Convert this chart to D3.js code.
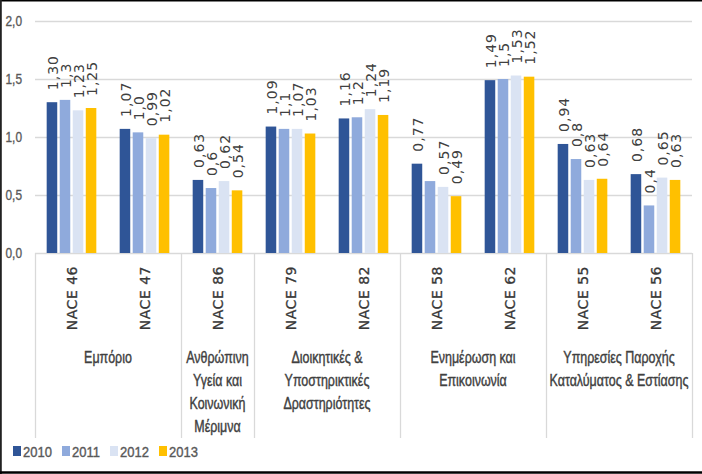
<!DOCTYPE html>
<html><head><meta charset="utf-8">
<script src="https://cdn.jsdelivr.net/npm/d3@7"></script>
<style>
html,body{margin:0;padding:0;background:#fff;}
svg{display:block;}
</style></head>
<body>
<svg id="chart" width="702" height="474"></svg>
<script>
// ---- data ----
const categories = ["NACE 46","NACE 47","NACE 86","NACE 79","NACE 82","NACE 58","NACE 62","NACE 55","NACE 56"];
const seriesNames = ["2010","2011","2012","2013"];
const v2010 = [1.30,1.07,0.63,1.09,1.16,0.77,1.49,0.94,0.68];
const v2011 = [1.32,1.04,0.56,1.07,1.17,0.62,1.50,0.81,0.41];
const v2012 = [1.23,0.99,0.62,1.07,1.24,0.57,1.53,0.63,0.65];
const v2013 = [1.25,1.02,0.54,1.03,1.19,0.49,1.52,0.64,0.63];
const seriesDecimals = [2,1,2,2];
const hiddenLabels = [[1,5]]; // [series, category] labels not shown
const groupLabels = [
  ["Εμπόριο"],
  ["Ανθρώπινη","Υγεία και","Κοινωνική","Μέριμνα"],
  ["Διοικητικές &","Υποστηρικτικές","Δραστηριότητες"],
  ["Ενημέρωση και","Επικοινωνία"],
  ["Υπηρεσίες Παροχής","Καταλύματος & Εστίασης"]
];
const groupSizes = [2,1,2,2,2];
const yTicks = [0,0.5,1.0,1.5,2.0];
const colors = ["#2F5597","#8FAADC","#DAE3F3","#FFC000"];

const seriesValues = [v2010,v2011,v2012,v2013];

// ---- layout ----
const svg = d3.select("#chart");
const plotL = 35, plotR = 692, plotT = 21, plotB = 253, axisBottom = 438;
const locale = d3.formatLocale({decimal:",",thousands:".",grouping:[3],currency:["","€"]});
const sansFont = "'Liberation Sans',Arial,sans-serif";
const monoLikeFont = "'DejaVu Sans',Verdana,sans-serif";

const y = d3.scaleLinear().domain([0,2]).range([plotB, plotT]);
const x = d3.scaleBand().domain(categories).range([plotL, plotR]).padding(0);
const bw = x.bandwidth();
const xs = d3.scaleBand().domain(seriesNames).range([bw*0.16, bw*0.84]).paddingInner(0.19);

// frame
svg.append("rect").attr("x",0).attr("y",0).attr("width",702).attr("height",474).attr("fill","#fff");
svg.append("line").attr("x1",0).attr("x2",702).attr("y1",0.5).attr("y2",0.5).attr("stroke","#000").attr("stroke-width",2);
svg.append("line").attr("x1",0.8).attr("x2",0.8).attr("y1",0).attr("y2",474).attr("stroke","#222").attr("stroke-width",2);
svg.append("line").attr("x1",0).attr("x2",702).attr("y1",472.5).attr("y2",472.5).attr("stroke","#000").attr("stroke-width",2.5);

// gridlines
svg.append("g").selectAll("line").data(yTicks).join("line")
  .attr("x1",plotL).attr("x2",plotR)
  .attr("y1",d=>Math.round(y(d))+0.5).attr("y2",d=>Math.round(y(d))+0.5)
  .attr("stroke","#d9d9d9").attr("stroke-width",1.3);

// y tick labels
svg.append("g").selectAll("text").data(yTicks).join("text")
  .attr("transform",d=>`translate(22,${y(d)+5}) scale(0.82,1)`)
  .attr("text-anchor","end")
  .attr("font-family",sansFont)
  .attr("font-size",14.5).attr("fill","#595959")
  .attr("stroke","#595959").attr("stroke-width",0.35)
  .text(d=>locale.format(".1f")(d));

// group separators
let bounds = [0];
groupSizes.forEach(s=>bounds.push(bounds[bounds.length-1]+s));
const boundX = bounds.map(i => i < categories.length ? x(categories[i]) : plotR);
svg.append("g").selectAll("line").data(boundX).join("line")
  .attr("x1",d=>Math.round(d)+0.5).attr("x2",d=>Math.round(d)+0.5)
  .attr("y1",plotB).attr("y2",axisBottom)
  .attr("stroke","#d9d9d9").attr("stroke-width",1.3);

// bars
seriesValues.forEach((vals,si)=>{
  svg.append("g").selectAll("rect").data(vals).join("rect")
    .attr("x",(d,i)=>x(categories[i])+xs(seriesNames[si]))
    .attr("width",xs.bandwidth())
    .attr("y",d=>y(d))
    .attr("height",d=>plotB-y(d))
    .attr("fill",colors[si]);
});

// value labels
seriesValues.forEach((vals,si)=>{
  const fmt = locale.format("."+seriesDecimals[si]+"f");
  svg.append("g").selectAll("text").data(vals).join("text")
    .attr("transform",(d,i)=>`translate(${x(categories[i])+xs(seriesNames[si])+xs.bandwidth()/2+0.5},${y(d)-12}) rotate(-90)`)
    .attr("dy","0.36em")
    .attr("text-anchor","start")
    .attr("font-family",monoLikeFont)
    .attr("font-size",14).attr("letter-spacing","1px")
    .attr("fill","#404040")
    .text((d,i)=> hiddenLabels.some(h=>h[0]===si&&h[1]===i) ? "" : fmt(d));
});

// category (NACE) labels
svg.append("g").selectAll("text").data(categories).join("text")
  .attr("transform",d=>`translate(${x(d)+bw/2},266) rotate(-90)`)
  .attr("dy","0.36em")
  .attr("text-anchor","end")
  .attr("font-family",monoLikeFont)
  .attr("font-size",14).attr("letter-spacing","0.5px")
  .attr("fill","#383838")
  .attr("stroke","#383838").attr("stroke-width",0.3)
  .text(d=>d);

// group labels
groupLabels.forEach((lines,gi)=>{
  const cx = (boundX[gi]+boundX[gi+1])/2;
  svg.append("text")
    .attr("transform",`translate(${cx},363) scale(0.78,1)`)
    .attr("text-anchor","middle")
    .attr("font-family",sansFont)
    .attr("font-size",16).attr("fill","#404040")
    .attr("stroke","#404040").attr("stroke-width",0.4)
    .selectAll("tspan").data(lines).join("tspan")
    .attr("x",0).attr("dy",(d,i)=>i===0?0:23)
    .text(d=>d);
});

// legend
const legX = [13,62,110,159];
const leg = svg.append("g").selectAll("g").data(seriesNames).join("g")
  .attr("transform",(d,i)=>`translate(${legX[i]},446)`);
leg.append("rect").attr("width",8).attr("height",10).attr("fill",(d,i)=>colors[i]);
leg.append("text").attr("transform","translate(10,10.8) scale(0.84,1)")
  .attr("font-family",sansFont)
  .attr("font-size",15.5).attr("fill","#595959")
  .attr("stroke","#595959").attr("stroke-width",0.4)
  .text(d=>d);
</script>
</body></html>
